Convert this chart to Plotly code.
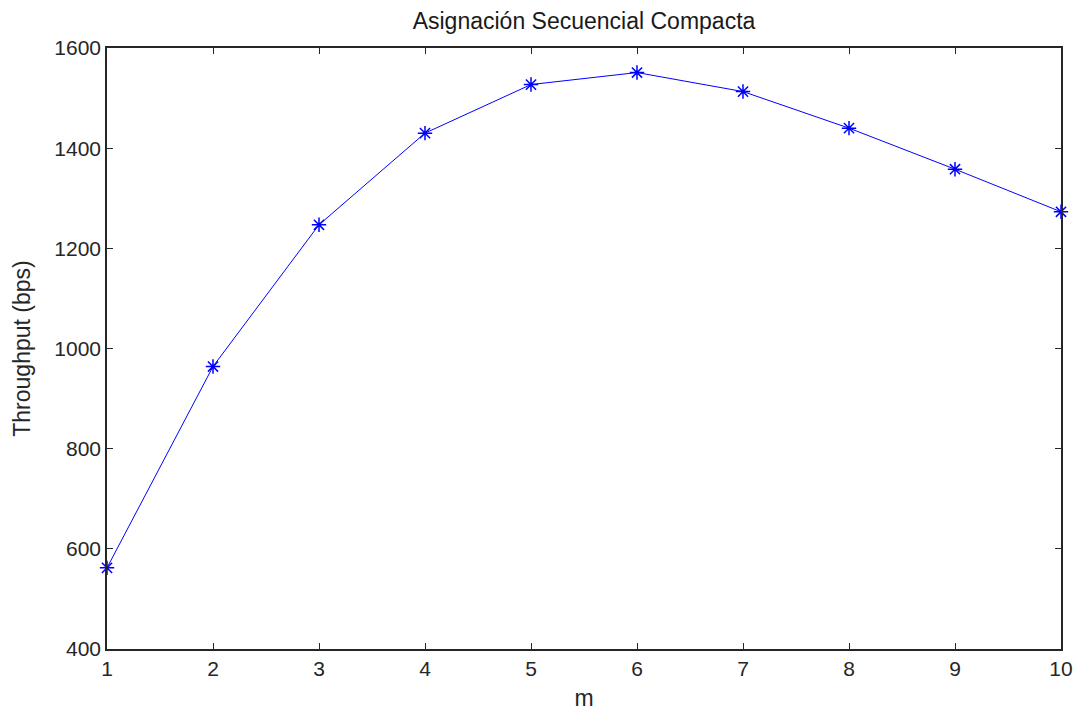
import plotly.graph_objects as go

m_values = [1, 2, 3, 4, 5, 6, 7, 8, 9, 10]
throughput = [562, 964, 1247, 1430, 1527, 1551, 1513, 1440, 1358, 1273]
x_ticks = [1, 2, 3, 4, 5, 6, 7, 8, 9, 10]
y_ticks = [400, 600, 800, 1000, 1200, 1400, 1600]

FONT = "Liberation Sans, Arial"
TXT = "#262626"

fig = go.Figure()
fig.add_trace(go.Scatter(
    x=m_values, y=throughput, mode="lines+markers",
    line=dict(color="#0000ff", width=1),
    marker=dict(symbol="asterisk-open", size=12, color="#0000ff",
                line=dict(color="#0000ff", width=1.5)),
    showlegend=False, cliponaxis=False,
))

axis_common = dict(
    showgrid=False, zeroline=False, showline=True, linecolor="#262626",
    linewidth=1.5, mirror="ticks", ticks="inside", ticklen=6,
    tickcolor="#262626", tickwidth=1, automargin=False,
    tickfont=dict(family=FONT, size=21, color=TXT),
)
fig.update_xaxes(range=[1, 10], tickvals=x_ticks,
                 title=dict(text="m", font=dict(family=FONT, size=23, color=TXT), standoff=12),
                 **axis_common)
fig.update_yaxes(range=[400, 1600], tickvals=y_ticks,
                 title=dict(text="Throughput (bps)", font=dict(family=FONT, size=23, color=TXT), standoff=17),
                 **axis_common)
fig.update_layout(
    width=1075, height=711, autosize=False,
    margin=dict(l=107, r=14, t=48, b=62),
    plot_bgcolor="white", paper_bgcolor="white",
    title=dict(text="Asignación Secuencial Compacta", x=(107 + 1061) / 2 / 1075, xanchor="center",
               y=1 - 21 / 711, yanchor="middle",
               font=dict(family=FONT, size=23, color="#1a1a1a")),
)
fig.write_html("out.html")
